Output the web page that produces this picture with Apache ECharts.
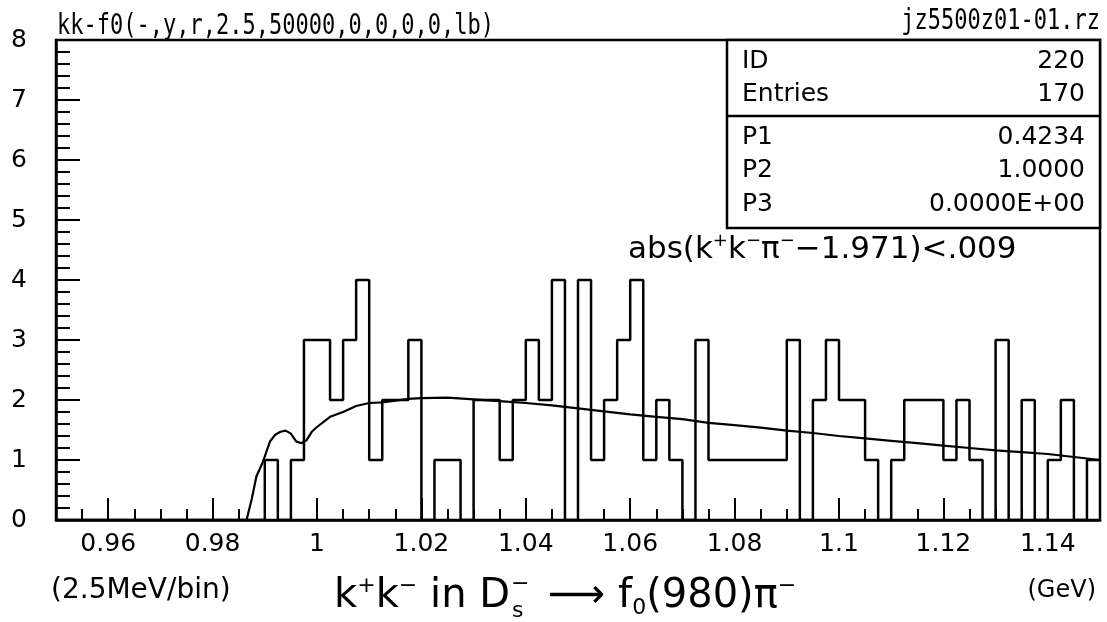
<!DOCTYPE html>
<html><head><meta charset="utf-8">
<script src="https://cdn.jsdelivr.net/npm/echarts@6/dist/echarts.min.js"></script>
<style>html,body{margin:0;padding:0;background:#fff}#c{width:1107px;height:622px}</style>
</head><body><div id="c"></div>
<script>
// ---- data ----
const binLow = 0.95;
const binWidth = 0.0025;
const binCounts = [
  0,0,0,0,0,0,0,0,0,0,0,0,0,0,0,0,
  1,0,1,3,3,2,3,4,1,2,2,3,0,1,1,0,
  2,2,1,2,3,2,4,0,4,1,2,3,4,1,2,1,
  0,3,1,1,1,1,1,1,3,0,2,3,2,2,1,0,
  1,2,2,2,1,2,1,0,3,0,2,0,1,2,0,1
];
const fitX = [0.9865,0.9875,0.9884,0.9894,0.990,0.991,0.992,0.993,0.994,0.995,0.996,0.997,0.998,0.999,1.000,
  1.0025,1.005,1.0075,1.010,1.0125,1.015,1.0175,1.020,1.025,1.030,1.035,1.040,1.045,1.050,1.055,1.060,1.065,
  1.070,1.075,1.080,1.085,1.090,1.095,1.100,1.105,1.110,1.115,1.120,1.125,1.130,1.135,1.140,1.145,1.150];
const fitY = [0,0.35,0.73,0.92,1.06,1.31,1.42,1.47,1.49,1.44,1.31,1.28,1.33,1.47,1.55,
  1.72,1.80,1.90,1.95,1.96,1.99,2.02,2.03,2.04,2.01,1.98,1.95,1.91,1.86,1.81,1.76,1.72,
  1.68,1.62,1.58,1.54,1.49,1.45,1.40,1.36,1.32,1.28,1.24,1.20,1.16,1.13,1.10,1.05,1.00];
const xLabelTicks = [0.96,0.98,1,1.02,1.04,1.06,1.08,1.1,1.12,1.14];
const statsLabels = ['ID','Entries','P1','P2','P3'];
const statsValues = ['220','170','0.4234','1.0000','0.0000E+00'];
const titleText = 'kk-f0(-,y,r,2.5,50000,0,0,0,0,lb)';
const fileText = 'jz5500z01-01.rz';

// ---- build ----
const histData = binCounts.map((c, i) => [binLow + i * binWidth, c]);
histData.push([binLow + binCounts.length * binWidth, binCounts[binCounts.length - 1]]);
const fitData = fitX.map((x, i) => [x, fitY[i]]);

const F = 'DejaVu Sans';
const M = 'DejaVu Sans Mono';
const blk = '#000';

const statsRowY = [61, 94, 137, 170, 204];
const graphics = [
  {type:'text', x:57, y:41, scaleY:1.3, style:{text:titleText, font:'22px "' + M + '"', fill:blk, align:'left', verticalAlign:'bottom'}},
  {type:'text', x:1100, y:36, scaleY:1.3, style:{text:fileText, font:'22px "' + M + '"', fill:blk, align:'right', verticalAlign:'bottom'}},
  {type:'rect', z:10, shape:{x:727, y:40, width:373, height:188}, style:{fill:'#fff', stroke:blk, lineWidth:2.5}},
  {type:'line', z:11, shape:{x1:727, y1:116, x2:1100, y2:116}, style:{stroke:blk, lineWidth:2.5}}
];
statsLabels.forEach((l, i) => {
  graphics.push({type:'text', z:12, x:742, y:statsRowY[i], style:{text:l, font:'25px "' + F + '"', fill:blk, align:'left', verticalAlign:'middle'}});
  graphics.push({type:'text', z:12, x:1085, y:statsRowY[i], style:{text:statsValues[i], font:'25px "' + F + '"', fill:blk, align:'right', verticalAlign:'middle'}});
});
// cut annotation
graphics.push({type:'text', x:628, y:250, style:{
  text:'{b|abs(k}{s|+}{b|k}{s|−}{b|π}{s|−}{b|−1.971)<.009}',
  align:'left', verticalAlign:'middle',
  rich:{b:{fontFamily:F, fontSize:31, lineHeight:36, color:blk},
        s:{fontFamily:F, fontSize:18, lineHeight:18, verticalAlign:'top', color:blk}}
}});
// axis annotations
graphics.push({type:'text', x:51, y:591, style:{text:'(2.5MeV/bin)', font:'28px "' + F + '"', fill:blk, align:'left', verticalAlign:'middle'}});
graphics.push({type:'text', x:1096, y:591, style:{text:'(GeV)', font:'24px "' + F + '"', fill:blk, align:'right', verticalAlign:'middle'}});
// main axis title: k+k- in Ds- -> f0(980)pi-
const richMain = {b:{fontFamily:F, fontSize:40, lineHeight:44, color:blk},
                  s:{fontFamily:F, fontSize:22, lineHeight:22, verticalAlign:'top', color:blk},
                  u:{fontFamily:F, fontSize:22, lineHeight:22, verticalAlign:'bottom', color:blk}};
graphics.push({type:'text', x:510, y:597, style:{text:'{b|k}{s|+}{b|k}{s|−}{b| in D}', align:'right', verticalAlign:'middle', rich:richMain}});
graphics.push({type:'text', x:512, y:611, style:{text:'s', font:'22px "' + F + '"', fill:blk, align:'left', verticalAlign:'middle'}});
graphics.push({type:'text', x:511, y:584, style:{text:'−', font:'22px "' + F + '"', fill:blk, align:'left', verticalAlign:'middle'}});
graphics.push({type:'text', x:548, y:597, style:{text:'{b|⟶ f}{u|0}{b|(980)π}{s|−}', align:'left', verticalAlign:'middle', rich:richMain}});

const chart = echarts.init(document.getElementById('c'), null, {renderer:'canvas'});
chart.setOption({
  animation:false,
  backgroundColor:'#fff',
  grid:{left:56, top:40, width:1044, height:480, show:true, borderColor:blk, borderWidth:2.5, backgroundColor:'transparent'},
  xAxis:[
    {type:'value', min:0.95, max:1.15, interval:0.005, position:'bottom',
     axisLine:{show:true, onZero:false, lineStyle:{color:blk, width:2.5}},
     axisTick:{show:true, inside:true, length:11, lineStyle:{color:blk, width:2}},
     axisLabel:{show:false}, splitLine:{show:false}},
    {type:'value', min:0.95, max:1.15, position:'bottom',
     axisLine:{show:false, onZero:false},
     axisTick:{show:true, inside:true, length:22, customValues:xLabelTicks, lineStyle:{color:blk, width:2}},
     axisLabel:{show:true, customValues:xLabelTicks, margin:12, fontSize:25, fontFamily:F, color:blk,
                formatter:v => String(+(+v).toFixed(2))},
     splitLine:{show:false}}
  ],
  yAxis:{type:'value', min:0, max:8, interval:1,
     axisLine:{show:true, onZero:false, lineStyle:{color:blk, width:2.5}},
     axisTick:{show:true, inside:true, length:24, lineStyle:{color:blk, width:2}},
     minorTick:{show:true, splitNumber:5, length:14, lineStyle:{color:blk, width:2}},
     axisLabel:{margin:29, fontSize:25, fontFamily:F, color:blk},
     splitLine:{show:false}, minorSplitLine:{show:false}},
  series:[
    {type:'line', xAxisIndex:0, yAxisIndex:0, step:'end', data:histData, symbol:'none',
     lineStyle:{color:blk, width:2.5}, z:3},
    {type:'line', xAxisIndex:0, yAxisIndex:0, data:fitData, symbol:'none', smooth:false,
     lineStyle:{color:blk, width:2.2}, z:4}
  ],
  graphic:graphics
});
</script></body></html>
